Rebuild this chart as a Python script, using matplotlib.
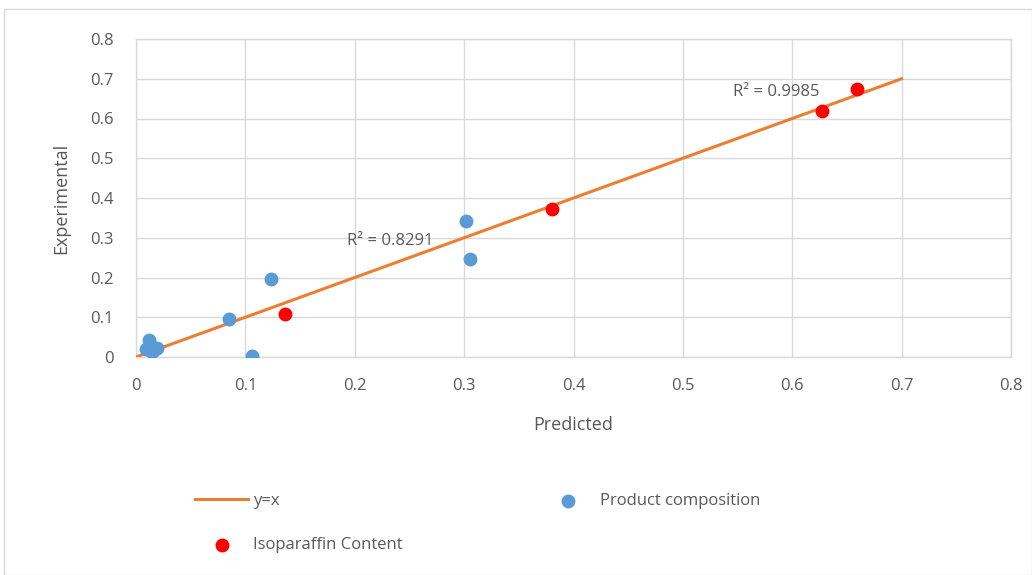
import matplotlib
matplotlib.use("Agg")
import matplotlib.pyplot as plt
from matplotlib.patches import Rectangle

plt.rcParams['font.family'] = ['Open Sans', 'DejaVu Sans']

# Data
line_x = [0.0, 0.7]
line_y = [0.0, 0.7]

product_pred = [0.012, 0.009, 0.016, 0.019, 0.015, 0.085, 0.123, 0.106, 0.302, 0.305]
product_exp = [0.043, 0.020, 0.018, 0.023, 0.013, 0.095, 0.196, 0.002, 0.342, 0.246]

iso_pred = [0.136, 0.380, 0.627, 0.659]
iso_exp = [0.108, 0.372, 0.619, 0.674]

ticks = [0, 0.1, 0.2, 0.3, 0.4, 0.5, 0.6, 0.7, 0.8]
tick_labels = ['0', '0.1', '0.2', '0.3', '0.4', '0.5', '0.6', '0.7', '0.8']

r2_labels = ['R² = 0.9985', 'R² = 0.8291']
r2_pos = [(0.585, 0.667), (0.232, 0.292)]

W, H = 1032, 575
fig = plt.figure(figsize=(W / 100, H / 100), dpi=100)
fig.patches.append(Rectangle((4 / W, 0), 1 - 4 / W, 1 - 9 / H, transform=fig.transFigure,
                             fill=False, edgecolor='#d9d9d9', linewidth=1))

ax = fig.add_axes([136 / W, 1 - 357 / H, (1011 - 136) / W, (357 - 39) / H])
ax.set_xlim(0, 0.8)
ax.set_ylim(0, 0.8)
ax.set_xticks(ticks)
ax.set_yticks(ticks)
ax.set_xticklabels(tick_labels)
ax.set_yticklabels(tick_labels)
ax.grid(True, color='#d9d9d9', linewidth=1)
ax.set_axisbelow(True)
for s in ax.spines.values():
    s.set_color('#d9d9d9')
    s.set_linewidth(1)
ax.tick_params(length=0, labelsize=12, colors='#595959')
ax.tick_params(axis='y', pad=16)
ax.tick_params(axis='x', pad=15)

l_line, = ax.plot(line_x, line_y, color='#ED7D31', linewidth=2.2, label='y=x', zorder=3)
sc_p = ax.scatter(product_pred, product_exp, s=100, color='#5B9BD5', label='Product composition',
                  zorder=4, linewidths=0)
sc_i = ax.scatter(iso_pred, iso_exp, s=100, color='#FF0000', label='Isoparaffin Content',
                  zorder=4, linewidths=0)

for lab, (x, y) in zip(r2_labels, r2_pos):
    ax.text(x, y, lab, fontsize=12, color='#595959', ha='center', va='center', zorder=5)

ax.set_xlabel('Predicted', fontsize=13, color='#595959', labelpad=16)
ax.set_ylabel('Experimental', fontsize=13, color='#595959', labelpad=14)

leg = fig.legend(handles=[l_line, sc_i, sc_p], ncol=2, loc='upper left',
                 bbox_to_anchor=(180 / W, 1 - 478 / H), frameon=False,
                 fontsize=12, labelcolor='#595959', handlelength=3.2,
                 columnspacing=8.3, labelspacing=1.7, handletextpad=0.3)

fig.savefig('out.png', dpi=100)
